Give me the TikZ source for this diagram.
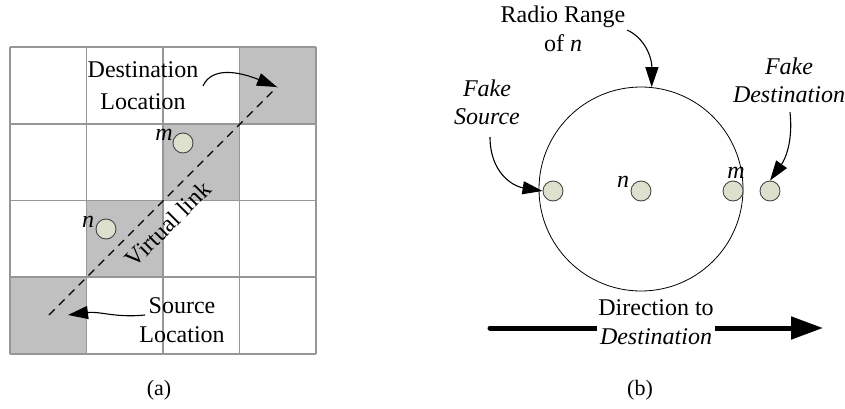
\documentclass[tikz,border=0pt]{standalone}
\usepackage{fontspec}
\setmainfont{Liberation Serif}
\usetikzlibrary{arrows.meta}
\definecolor{cellgray}{RGB}{192,192,192}
\definecolor{gridgray}{RGB}{150,150,150}
\definecolor{dotfill}{RGB}{221,224,204}
\definecolor{dotline}{RGB}{70,70,70}
\begin{document}
\begin{tikzpicture}[x=1pt,y=-1pt,
  lbl/.style={font=\fontsize{24}{29}\selectfont, align=center, inner sep=0pt},
  ilbl/.style={font=\fontsize{24}{28}\selectfont\itshape, align=center, inner sep=0pt},
  dot/.style={circle, draw=dotline, fill=dotfill, line width=0.9pt, minimum size=20pt, inner sep=0pt},
  ptr/.style={-{Triangle[length=20pt,width=13pt]}, line width=1.1pt},
  gridline/.style={draw=gridgray, line width=1.6pt},
  caption/.style={font=\fontsize{22}{26}\selectfont, inner sep=0pt},
]
\useasboundingbox (0,0) rectangle (845,409);
% ---------- (a) grid ----------
\fill[cellgray] (239.5,47) rectangle (316,123.75);
\fill[cellgray] (163,123.75) rectangle (239.5,200.5);
\fill[cellgray] (86.5,200.5) rectangle (163,277.25);
\fill[cellgray] (10,277.25) rectangle (86.5,354);
\foreach \i in {0,...,4} {
  \draw[gridline] ({10+76.5*\i},47) -- ({10+76.5*\i},354);
  \draw[gridline] (10,{47+76.75*\i}) -- (316,{47+76.75*\i});
}
\coordinate (vs) at (49,315);
\coordinate (vd) at (277,87);
\draw[dash pattern=on 8pt off 6pt, line width=1.1pt] (vs) -- (vd);
\node[lbl, rotate=45] (vl) at (168,224) {Virtual link};
\node[dot] (ma) at (183,143) {};
\node[dot] (na) at (106,229) {};
\node[ilbl] (mal) at (164,135) {m};
\node[ilbl] (nal) at (88,222) {n};
\node[lbl, font=\fontsize{24}{32}\selectfont] (dl) at (143,86) {Destination\\Location};
\coordinate (da) at (203,86);
\draw[ptr] (da) .. controls (212,66) and (240,72) .. (vd);
\node[lbl] (sl) at (182,320) {Source\\Location};
\coordinate (sa) at (145,315);
\coordinate (st) at (68,315);
\draw[ptr] (sa) .. controls (115,318) and (100,311) .. (st);
\node[caption] (capa) at (159,390) {(a)};
% ---------- (b) radio range ----------
\node[circle, draw, line width=0.8pt, minimum size=204pt, inner sep=0pt] (range) at (641,189) {};
\node[dot] (fs) at (553,191) {};
\node[dot] (nb) at (641,191) {};
\node[dot] (mb) at (733,191) {};
\node[dot] (fd) at (770,191) {};
\node[ilbl] (nbl) at (623,182) {n};
\node[ilbl] (mbl) at (736,173) {m};
\node[lbl] (rr) at (563,29) {Radio Range\\of \textit{n}};
\coordinate (rrs) at (627,30);
\draw[ptr] (rrs) .. controls (645,38) and (652,58) .. (range.84);
\node[ilbl] (fsl) at (487,102) {Fake\\Source};
\coordinate (fss) at (490,137);
\draw[ptr] (fss) .. controls (490,172) and (512,186) .. (fs.west);
\node[ilbl] (fdl) at (789,80) {Fake\\Destination};
\coordinate (fds) at (790,112);
\draw[ptr] (fds) .. controls (793,140) and (786,158) .. (fd.north);
\coordinate (ds) at (490,328);
\coordinate (de) at (823,328);
\draw[line width=5pt, line cap=round, -{Triangle[length=32pt,width=22pt]}] (ds) -- (de);
\node[lbl, fill=white, inner xsep=1pt, inner ysep=2pt] (dir) at (656,322) {Direction to\\\textit{Destination}};
\node[caption] (capb) at (640,390) {(b)};
\end{tikzpicture}
\end{document}
